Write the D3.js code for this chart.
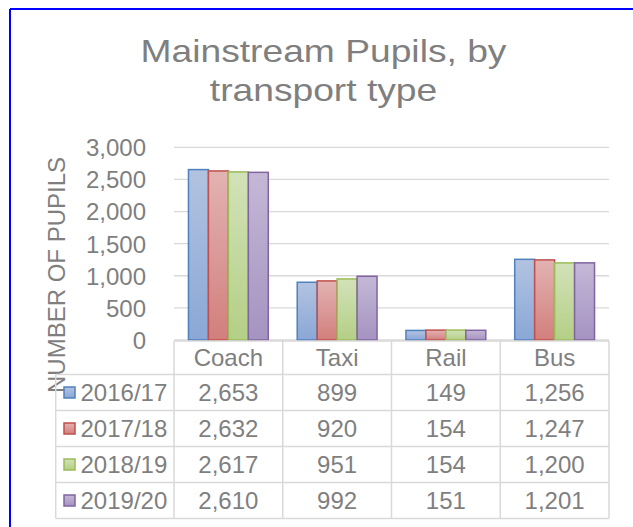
<!DOCTYPE html>
<html>
<head>
<meta charset="utf-8">
<script src="https://cdn.jsdelivr.net/npm/d3@7"></script>
<style>
  html, body { margin: 0; padding: 0; background: #fff; }
  svg { display: block; font-family: "Liberation Sans", Arial, sans-serif; }
</style>
</head>
<body>
<svg id="chart" width="633" height="527"></svg>
<script>
const categories = ["Coach", "Taxi", "Rail", "Bus"];
const seriesNames = ["2016/17", "2017/18", "2018/19", "2019/20"];
const values2016 = [2653, 899, 149, 1256];
const values2017 = [2632, 920, 154, 1247];
const values2018 = [2617, 951, 154, 1200];
const values2019 = [2610, 992, 151, 1201];
const yTicks = [0, 500, 1000, 1500, 2000, 2500, 3000];
const titleLines = ["Mainstream Pupils, by", "transport type"];
const yAxisTitle = "NUMBER OF PUPILS";

const seriesValues = [values2016, values2017, values2018, values2019];
const strokeColors = ["#4f81bd", "#c0504d", "#9bbb59", "#8064a2"];
const topColors = ["#b2c3e1", "#e2b3b2", "#d2e2b8", "#c4b8d6"];
const bottomColors = ["#8aa7d6", "#d27f7c", "#b4cf86", "#a593c1"];
const textColor = "#7f7f7f";
const gridColor = "#d9d9d9";
const fmt = d3.format(",");

const svg = d3.select("#chart");

// gradients
const defs = svg.append("defs");
seriesNames.forEach((s, i) => {
  const g = defs.append("linearGradient").attr("id", "grad" + i)
    .attr("x1", 0).attr("y1", 0).attr("x2", 0).attr("y2", 1);
  g.append("stop").attr("offset", "0%").attr("stop-color", topColors[i]);
  g.append("stop").attr("offset", "100%").attr("stop-color", bottomColors[i]);
});

// frame
svg.append("line").attr("x1", 10).attr("y1", 9).attr("x2", 633).attr("y2", 9)
  .attr("stroke", "#0000ff").attr("stroke-width", 2);
svg.append("line").attr("x1", 10).attr("y1", 9).attr("x2", 10).attr("y2", 527)
  .attr("stroke", "#0000ff").attr("stroke-width", 2);

// layout
const plotLeft = 174, plotRight = 609, plotTop = 147.3, plotBottom = 340;
const y = d3.scaleLinear().domain([0, 3000]).range([plotBottom, plotTop]);
const x0 = d3.scaleBand().domain(categories).range([plotLeft, plotRight]).padding(0);
const bw = x0.bandwidth();
const x1 = d3.scaleBand().domain(seriesNames).range([bw * 0.133, bw * (1 - 0.133)]).padding(0);

// title
const tg = svg.append("g").attr("transform", "translate(323.5,0) scale(1.2,1)");
tg.selectAll("text").data(titleLines).join("text")
  .attr("x", 0).attr("y", (d, i) => 62 + i * 39.5)
  .attr("text-anchor", "middle").attr("fill", textColor)
  .attr("font-size", 31).text(d => d);

// gridlines
svg.append("g").selectAll("line").data(yTicks).join("line")
  .attr("x1", plotLeft).attr("x2", plotRight)
  .attr("y1", d => y(d)).attr("y2", d => y(d))
  .attr("stroke", gridColor).attr("stroke-width", 1.3);

// y axis labels
const yAxis = d3.axisLeft(y).tickValues(yTicks).tickFormat(fmt).tickSize(0).tickPadding(0);
const ya = svg.append("g").attr("transform", "translate(146,0)").call(yAxis);
ya.select(".domain").remove();
ya.selectAll("text").attr("fill", textColor).attr("font-size", 24)
  .attr("font-family", "Liberation Sans, Arial, sans-serif").attr("dy", "0.35em");

// axis title
svg.append("text").attr("transform", "translate(65,275) rotate(-90)")
  .attr("text-anchor", "middle").attr("fill", textColor).attr("font-size", 24)
  .text(yAxisTitle);

// bars
seriesNames.forEach((s, si) => {
  svg.append("g").selectAll("rect").data(categories.map((c, ci) => ({c, v: seriesValues[si][ci]})))
    .join("rect")
    .attr("x", d => x0(d.c) + x1(s))
    .attr("y", d => y(d.v))
    .attr("width", x1.bandwidth())
    .attr("height", d => plotBottom - y(d.v))
    .attr("fill", "url(#grad" + si + ")")
    .attr("stroke", strokeColors[si]).attr("stroke-width", 1.5);
});

// data table
const tableTop = 341, headerH = 33.5, rowH = 36, tableLeft = 55.7;
const rowsTop = tableTop + headerH;
const tbl = svg.append("g").attr("stroke", gridColor).attr("stroke-width", 1.5);
tbl.append("line").attr("x1", plotLeft).attr("x2", plotRight).attr("y1", tableTop).attr("y2", tableTop);
seriesNames.forEach((s, i) => {
  tbl.append("line").attr("x1", tableLeft).attr("x2", plotRight)
    .attr("y1", rowsTop + i * rowH).attr("y2", rowsTop + i * rowH);
});
tbl.append("line").attr("x1", tableLeft).attr("x2", plotRight)
  .attr("y1", rowsTop + seriesNames.length * rowH).attr("y2", rowsTop + seriesNames.length * rowH);
tbl.append("line").attr("x1", tableLeft).attr("x2", tableLeft)
  .attr("y1", rowsTop).attr("y2", rowsTop + seriesNames.length * rowH);
categories.concat(["_end"]).forEach((c, i) => {
  const xx = i < categories.length ? x0(c) : plotRight;
  tbl.append("line").attr("x1", xx).attr("x2", xx)
    .attr("y1", tableTop).attr("y2", rowsTop + seriesNames.length * rowH);
});

// header texts
svg.append("g").selectAll("text").data(categories).join("text")
  .attr("x", d => x0(d) + bw / 2).attr("y", tableTop + headerH / 2)
  .attr("dy", "0.35em").attr("text-anchor", "middle")
  .attr("fill", textColor).attr("font-size", 24).text(d => d);

// rows
seriesNames.forEach((s, si) => {
  const cy = rowsTop + si * rowH + rowH / 2;
  svg.append("rect").attr("x", 64).attr("y", cy - 5.5).attr("width", 11).attr("height", 11)
    .attr("fill", "url(#grad" + si + ")").attr("stroke", strokeColors[si]).attr("stroke-width", 1.5);
  svg.append("text").attr("x", 80.5).attr("y", cy).attr("dy", "0.35em")
    .attr("fill", textColor).attr("font-size", 24).text(s);
  svg.append("g").selectAll("text").data(categories.map((c, ci) => ({c, v: seriesValues[si][ci]})))
    .join("text")
    .attr("x", d => x0(d.c) + bw / 2).attr("y", cy).attr("dy", "0.35em")
    .attr("text-anchor", "middle").attr("fill", textColor).attr("font-size", 24)
    .text(d => fmt(d.v));
});
</script>
</body>
</html>
